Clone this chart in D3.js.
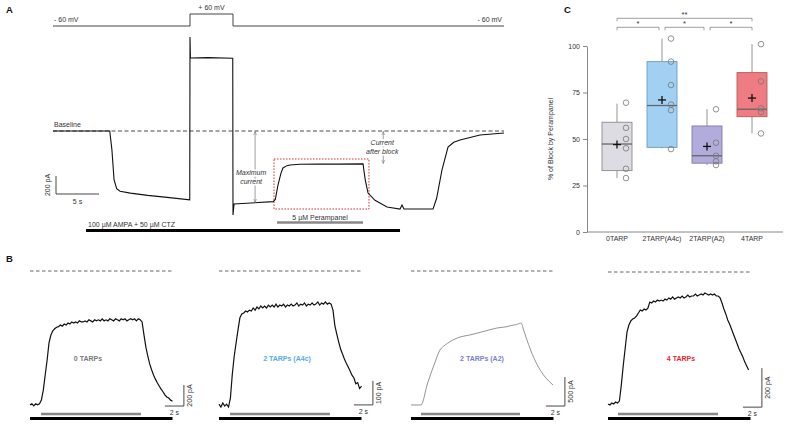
<!DOCTYPE html>
<html><head><meta charset="utf-8">
<script src="https://cdn.jsdelivr.net/npm/d3@7"></script>
<style>body{margin:0;background:#fff} svg{display:block}</style>
</head><body><svg id="c" width="786" height="425"></svg>
<script>
// ================= DATA =================
// Panel A – voltage protocol (time s, mV)
const voltageProtocol = [[0,-60],[15.93,-60],[15.93,60],[20.93,60],[20.93,-60],[52.44,-60]];
// Panel A – current (time s, pA relative to baseline)
const currentTraceA = [
 [0,0],[6.6,0],[6.85,-210],[7.1,-540],[7.4,-640],[7.8,-670],[9,-690],[11,-715],[13,-735],[15.9,-765],
 [15.93,1044],[15.98,811],[18,815],[20.9,808],
 [20.93,-933],[21.05,-811],[23,-800],[25.6,-785],[25.85,-760],[26.16,-600],[26.5,-470],[26.74,-411],[27.2,-385],[27.56,-378],[28.7,-370],[31,-366],[33,-368],[36.05,-365],
 [36.3,-540],[36.63,-689],[37.44,-770],[38.84,-844],[40.35,-867],[40.58,-822],[40.81,-867],[44.19,-867],
 [44.6,-750],[45.23,-433],[45.93,-178],[46.6,-125],[47.33,-100],[49.65,-44],[52.44,-22]
];
const voltageLabels = ["- 60 mV","+ 60 mV","- 60 mV"];
const ampaLabel = "100 µM AMPA + 50 µM CTZ";
const ampaApplicationA = [3.84, 40.35];
const perampanelLabelA = "5 µM Perampanel";
const perampanelApplicationA = [26.05, 36.05];
const maxCurrentMarker = [23.5, -800];     // time, pA
const blockedCurrentMarker = [38.4, -367]; // time, pA
const blockWindowT = [25.7, 36.74];
const blockWindowPA = [-311, -867];
const scaleBarA = {pA:200, s:5};

// Panel C – % block by perampanel
const categories = ["0TARP","2TARP(A4c)","2TARP(A2)","4TARP"];
const boxQ1     = [33, 45.5, 37, 62];
const boxMedian = [47.3, 68, 41, 66];
const boxQ3     = [59, 91.6, 57, 85.7];
const whiskerLow  = [29, 45, 36, 53];
const whiskerHigh = [69, 104, 66, 101];
const means = [47, 71, 46, 72];
const cellValues = [
 [69.5, 56, 50, 45, 34, 29],
 [104, 91.6, 79, 68.5, 65.5, 44.6],
 [66, 48, 41, 38, 36],
 [101, 81, 66.5, 64.5, 53]
];
const yTicksC = [0, 25, 50, 75, 100];
const significance = [
 {from:0, to:3, label:"**", level:0},
 {from:0, to:1, label:"*", level:1},
 {from:1, to:2, label:"*", level:1},
 {from:2, to:3, label:"*", level:1}
];

// Panel B – example traces (pA relative to baseline)
const traceLabelsB = ["0 TARPs","2 TARPs (A4c)","2 TARPs (A2)","4 TARPs"];
const sampleIntervalB = 0.2; // s
const trace0TARP = [
 -1275,-1265,-1285,-1265,-1275,-1265,-1230,-1135,-990,-850,
 -685,-610,-570,-550,-535,-530,-515,-525,-505,-515,
 -495,-505,-485,-495,-485,-495,-475,-485,-485,-475,
 -485,-465,-475,-485,-465,-475,-465,-475,-455,-475,
 -465,-475,-455,-465,-475,-455,-465,-475,-455,-465,
 -455,-475,-465,-455,-465,-455,-475,-455,-465,-485,
 -610,-725,-810,-885,-940,-990,-1030,-1065,-1095,-1125,
 -1150,-1180,-1200,-1210,-1230,-1240
];
const trace2TARPA4c = [
 -555,-567,-550,-563,-555,-567,
 -530,-430,-355,-300,-245,-195,-179,-175,-167,-171,
 -163,-167,-154,-163,-150,-158,-146,-154,-146,-154,
 -142,-150,-142,-150,-138,-150,-142,-146,-138,-150,
 -142,-146,-138,-146,-142,-133,-146,-138,-142,-133,
 -146,-138,-142,-133,-142,-138,-129,-142,-133,-138,
 -129,-138,-133,-138,
 -163,-229,-263,-296,-325,-346,-367,-384,-400,-417,-434,-446,-470,-465,-490,-480
];
const trace2TARPA2 = [ // [time s, pA]
 [0,-2310],[1.05,-2310],[1.75,-1931],[2.42,-1621],[3.05,-1362],[3.6,-1276],[4.1,-1219],
 [5.16,-1138],[6.21,-1103],[7.58,-1046],[9.05,-983],[10.1,-960],[10.8,-931],[11.1,-925],
 [11.4,-905],[11.6,-897],[11.85,-1017],[12.1,-1138],[12.63,-1379],[13.3,-1621],
 [13.95,-1793],[14.5,-1897],[14.95,-1966]
];
const trace4TARP = [
 -677,-682,-672,-677,-667,-672,
 -662,-580,-482,-395,-308,-272,-251,-241,-236,-226,
 -210,-195,-200,-190,-195,-185,-154,-159,-149,-154,
 -144,-149,-144,-149,-139,-144,-133,-139,-128,-139,
 -133,-128,-133,-123,-133,-128,-118,-128,-123,-123,
 -113,-123,-118,-113,-118,-108,-113,-118,-113,-118,
 -113,-123,-123,-133,
 -159,-190,-215,-246,-267,-292,-318,-344,-369,-395,-416,-436,-462,-482,-503
];
const perampanelB = [[1.16,11.68],[1.16,11.68],[1.05,11.47],[1.05,11.58]];
const ampaB = [0, 15];
const scaleBarPA_B = [200, 100, 500, 200];
const scaleBarS_B = 2;

// ================= LAYOUT / STYLE =================
const FONT = '"Liberation Sans", Arial, Helvetica, sans-serif';
const svg = d3.select("#c").attr("font-family", FONT);
const defs = svg.append("defs");
defs.append("marker").attr("id","arr").attr("viewBox","0 0 6 6").attr("refX",5.5).attr("refY",3)
  .attr("markerWidth",5).attr("markerHeight",5).attr("orient","auto-start-reverse")
  .append("path").attr("d","M0,0.8 L5.5,3 L0,5.2").attr("fill","none").attr("stroke","#777").attr("stroke-width",0.8);

function txt(g, x, y, s, o={}) {
  const t = g.append("text").attr("x",x).attr("y",y).text(s)
    .attr("font-size", o.size||7).attr("fill", o.fill||"#333")
    .attr("text-anchor", o.anchor||"start");
  if (o.weight) t.attr("font-weight", o.weight);
  if (o.style) t.attr("font-style", o.style);
  if (o.rotate) t.attr("transform", `rotate(-90,${x},${y})`);
  if (o.halo) t.attr("stroke","#fff").attr("stroke-width",3).attr("paint-order","stroke");
  return t;
}
// panel letters
txt(svg, 6, 13, "A", {size:9.5, weight:"bold", fill:"#111"});
txt(svg, 6, 262, "B", {size:9.5, weight:"bold", fill:"#111"});
txt(svg, 564, 13, "C", {size:9.5, weight:"bold", fill:"#111"});

// ================= PANEL A =================
const gA = svg.append("g");
const xA = d3.scaleLinear().domain([0, 52.44]).range([53, 504]);
const yA = d3.scaleLinear().domain([-1000, 1100]).range([221, 32]);
const vA = d3.scaleLinear().domain([-60, 60]).range([26, 14]);

gA.append("path").datum(voltageProtocol)
  .attr("d", d3.line().x(d=>xA(d[0])).y(d=>vA(d[1])))
  .attr("fill","none").attr("stroke","#444").attr("stroke-width",1);
txt(gA, xA(0)+1, vA(-60)-4, voltageLabels[0]);
txt(gA, (xA(voltageProtocol[2][0])+xA(voltageProtocol[3][0]))/2, vA(60)-4, voltageLabels[1], {anchor:"middle"});
txt(gA, xA(52.44)-2, vA(-60)-4, voltageLabels[2], {anchor:"end"});

// baseline
gA.append("line").attr("x1",xA(0)).attr("x2",xA(52.44)).attr("y1",yA(0)).attr("y2",yA(0))
  .attr("stroke","#333").attr("stroke-width",0.9).attr("stroke-dasharray","4,2.5");
txt(gA, xA(0)+1, yA(0)-4, "Baseline");

// block window
gA.append("rect").attr("x",xA(blockWindowT[0])).attr("y",yA(blockWindowPA[0]))
  .attr("width",xA(blockWindowT[1])-xA(blockWindowT[0])).attr("height",yA(blockWindowPA[1])-yA(blockWindowPA[0]))
  .attr("fill","none").attr("stroke","#e8262b").attr("stroke-width",1).attr("stroke-dasharray","1.5,1.5");

// current trace
gA.append("path").datum(currentTraceA)
  .attr("d", d3.line().x(d=>xA(d[0])).y(d=>yA(d[1])))
  .attr("fill","none").attr("stroke","#111").attr("stroke-width",1.1);

// annotations
function marker(g, t, pA, lines, dx, y0) {
  g.append("line").attr("x1",xA(t)).attr("x2",xA(t)).attr("y1",yA(0)+0.5).attr("y2",yA(pA)-0.5)
   .attr("stroke","#888").attr("stroke-width",0.8)
   .attr("marker-start","url(#arr)").attr("marker-end","url(#arr)");
  lines.forEach((s,i)=>txt(g, xA(t)+dx, y0+i*9, s, {anchor:"middle", style:"italic", halo:true}));
}
marker(gA, maxCurrentMarker[0], maxCurrentMarker[1], ["Maximum","current"], -4, 175);
marker(gA, blockedCurrentMarker[0], blockedCurrentMarker[1], ["Current","after block"], -1, 145);

// scale bar A
const sbA = gA.append("g").attr("stroke","#333").attr("stroke-width",0.9);
sbA.append("line").attr("x1",xA(0.35)).attr("x2",xA(0.35)).attr("y1",yA(-700)).attr("y2",yA(-700+scaleBarA.pA));
sbA.append("line").attr("x1",xA(0.35)).attr("x2",xA(0.35+scaleBarA.s)).attr("y1",yA(-700)).attr("y2",yA(-700));
txt(gA, xA(0.35)-6, (yA(-700)+yA(-500))/2, "200 pA", {anchor:"middle", rotate:true});
txt(gA, xA(0.35+scaleBarA.s/2), yA(-700)+10, "5 s", {anchor:"middle"});

// application bars
txt(gA, (xA(perampanelApplicationA[0])+xA(perampanelApplicationA[1]))/2, 219.5, perampanelLabelA, {anchor:"middle"});
gA.append("line").attr("x1",xA(perampanelApplicationA[0])).attr("x2",xA(perampanelApplicationA[1]))
  .attr("y1",222.5).attr("y2",222.5).attr("stroke","#888").attr("stroke-width",2.5);
txt(gA, xA(ampaApplicationA[0])+2, 227, ampaLabel);
gA.append("line").attr("x1",xA(ampaApplicationA[0])).attr("x2",xA(ampaApplicationA[1]))
  .attr("y1",230.5).attr("y2",230.5).attr("stroke","#000").attr("stroke-width",3);

// ================= PANEL C =================
const gC = svg.append("g");
const boxFill = ["#dddce2","#a2d0f2","#b1acdc","#ee7c82"];
const boxStroke = ["#8a8a8f","#6c9cc0","#7f7aa8","#b85a5f"];
const xC = d3.scaleBand().domain(categories).range([594.5, 774.5]).padding(0);
const yC = d3.scaleLinear().domain([0, 100]).range([232, 46]);
const cx = c => xC(c) + xC.bandwidth()/2;
const bw = 30;

const axL = gC.append("g").attr("transform","translate(587,0)")
  .call(d3.axisLeft(yC).tickValues(yTicksC).tickSize(4).tickSizeOuter(0).tickPadding(3));
axL.selectAll("path,line").attr("stroke","#888");
axL.selectAll("text").attr("font-size",7).attr("fill","#333").attr("font-family",FONT);
gC.append("line").attr("x1",587).attr("x2",783).attr("y1",yC(0)).attr("y2",yC(0)).attr("stroke","#888");
const axB = gC.append("g").attr("transform",`translate(0,${yC(0)})`)
  .call(d3.axisBottom(xC).tickSize(0).tickPadding(4));
axB.select(".domain").remove();
axB.selectAll("text").attr("font-size",7).attr("fill","#333").attr("font-family",FONT);
txt(gC, 553, (yC(0)+yC(100))/2, "% of Block by Perampanel", {anchor:"middle", rotate:true});

categories.forEach((c,i)=>{
  const x = cx(c);
  const w = gC.append("g").attr("stroke","#888").attr("stroke-width",0.9);
  w.append("line").attr("x1",x).attr("x2",x).attr("y1",yC(boxQ3[i])).attr("y2",yC(whiskerHigh[i]));
  w.append("line").attr("x1",x).attr("x2",x).attr("y1",yC(boxQ1[i])).attr("y2",yC(whiskerLow[i]));
  gC.append("rect").attr("x",x-bw/2).attr("y",yC(boxQ3[i])).attr("width",bw).attr("height",yC(boxQ1[i])-yC(boxQ3[i]))
    .attr("fill",boxFill[i]).attr("stroke",boxStroke[i]).attr("stroke-width",0.9);
  gC.append("line").attr("x1",x-bw/2).attr("x2",x+bw/2).attr("y1",yC(boxMedian[i])).attr("y2",yC(boxMedian[i]))
    .attr("stroke","#666").attr("stroke-width",1.3);
  gC.selectAll(null).data(cellValues[i]).enter().append("circle")
    .attr("cx",x+9).attr("cy",d=>yC(d)).attr("r",2.8)
    .attr("fill","none").attr("stroke","#777").attr("stroke-width",0.8);
  const m = gC.append("g").attr("stroke","#111").attr("stroke-width",1.3);
  m.append("line").attr("x1",x-4).attr("x2",x+4).attr("y1",yC(means[i])).attr("y2",yC(means[i]));
  m.append("line").attr("x1",x).attr("x2",x).attr("y1",yC(means[i])-4).attr("y2",yC(means[i])+4);
});

significance.forEach(s=>{
  const yb = s.level===0 ? 18.3 : 27.3;
  const x1 = cx(categories[s.from]) + (s.level===1 && s.from>0 ? 3 : 0);
  const x2 = cx(categories[s.to]) - (s.level===1 && s.to<3 ? 3 : 0);
  gC.append("path").attr("d",`M${x1},${yb+3}V${yb}H${x2}V${yb+3}`)
    .attr("fill","none").attr("stroke","#888").attr("stroke-width",0.8);
  txt(gC, (x1+x2)/2, yb-1.5, s.label, {anchor:"middle", size:7.5, fill:"#333"});
});

// ================= PANEL B =================
const gB = svg.append("g");
const bX0 = [30, 219, 411, 608];
const bBase = [271, 271, 271, 272];
const bPxPerPA = [0.105, 0.24, 0.058, 0.195];
const bPxPerS = 9.5;
const bLabelT = [6.1, 7.16, 7.47, 7.68];
const bLabelColor = ["#7a7a7a","#5aa9e6","#7a80cc","#e8262b"];
const bScaleBottom = [-1286, -558, -2328, -693];
const toPairs = arr => arr.map((v,i)=>[i*sampleIntervalB, v]);
const tracesB = [toPairs(trace0TARP), toPairs(trace2TARPA4c), trace2TARPA2, toPairs(trace4TARP)];

tracesB.forEach((tr,i)=>{
  const x = d3.scaleLinear().domain([0,15]).range([bX0[i], bX0[i]+15*bPxPerS]);
  const y = d3.scaleLinear().domain([0,-1000]).range([bBase[i], bBase[i]+1000*bPxPerPA[i]]);
  gB.append("line").attr("x1",x(ampaB[0])).attr("x2",x(ampaB[1])).attr("y1",y(0)).attr("y2",y(0))
    .attr("stroke","#555").attr("stroke-width",0.9).attr("stroke-dasharray","3.5,2.5");
  const smooth = (i===2);
  gB.append("path").datum(tr)
    .attr("d", d3.line().x(d=>x(d[0])).y(d=>y(d[1])).curve(smooth ? d3.curveMonotoneX : d3.curveLinear))
    .attr("fill","none").attr("stroke", smooth ? "#888" : "#111").attr("stroke-width", smooth ? 0.9 : 1.2);
  txt(gB, x(bLabelT[i]), 360.5, traceLabelsB[i], {anchor:"middle", weight:"bold", fill:bLabelColor[i]});
  // perfusion bars
  gB.append("line").attr("x1",x(perampanelB[i][0])).attr("x2",x(perampanelB[i][1])).attr("y1",414).attr("y2",414)
    .attr("stroke","#888").attr("stroke-width",2.5);
  gB.append("line").attr("x1",x(ampaB[0])).attr("x2",x(ampaB[1])).attr("y1",418.5).attr("y2",418.5)
    .attr("stroke","#000").attr("stroke-width",3);
  // scale bar
  const sx = x(16.2), sy0 = y(bScaleBottom[i]), sy1 = y(bScaleBottom[i]+scaleBarPA_B[i]);
  const sb = gB.append("g").attr("stroke","#333").attr("stroke-width",0.9);
  sb.append("line").attr("x1",sx).attr("x2",sx).attr("y1",sy0).attr("y2",sy1);
  sb.append("line").attr("x1",x(16.2-scaleBarS_B)).attr("x2",sx).attr("y1",sy0).attr("y2",sy0);
  txt(gB, sx+8, (sy0+sy1)/2, scaleBarPA_B[i]+" pA", {anchor:"middle", rotate:true});
  txt(gB, sx-9.5, sy0+9, scaleBarS_B+" s", {anchor:"middle"});
});
</script></body></html>
